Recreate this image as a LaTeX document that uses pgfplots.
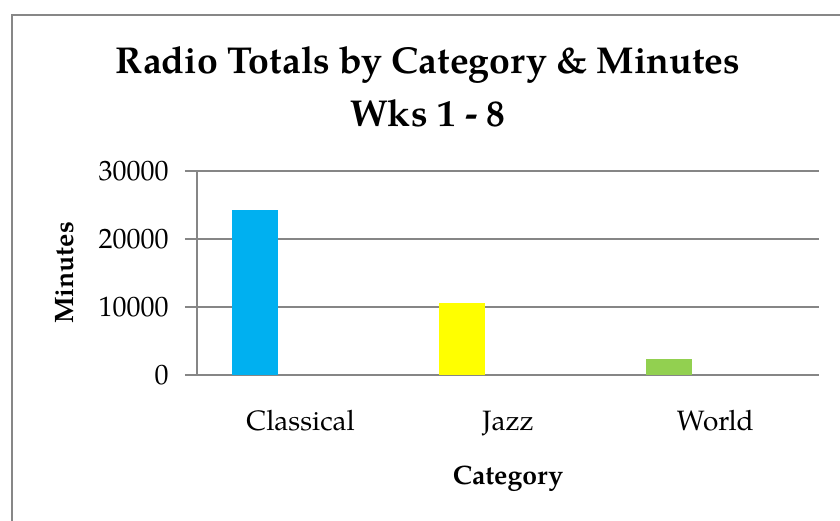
\documentclass[border=0pt]{standalone}
\usepackage{pgfplots}
\pgfplotsset{compat=1.18}
\usepackage{fontspec}
\setmainfont{TeX Gyre Pagella}
\definecolor{cblue}{RGB}{0,176,240}
\definecolor{cyellow}{RGB}{255,255,0}
\definecolor{cgreen}{RGB}{146,208,80}
\definecolor{axgray}{RGB}{134,134,134}
\definecolor{framegray}{RGB}{135,135,135}
\begin{document}
\begin{tikzpicture}
\path[use as bounding box] (0,0) rectangle (420pt,260pt);
\draw[framegray, line width=1pt] (6pt,-2pt) -- (6pt,252.5pt) -- (422pt,252.5pt);
\node[font=\fontsize{18.7}{22}\selectfont\bfseries] at (214pt,227.5pt) {Radio Totals by Category \& Minutes};
\node[font=\fontsize{18.7}{22}\selectfont\bfseries] at (214pt,203.5pt) {Wks 1 - 8};
\begin{axis}[
  scale only axis,
  width=311pt, height=102pt,
  at={(98.5pt,72.5pt)}, anchor=south west,
  xmin=-0.5, xmax=2.5,
  ymin=0, ymax=30000,
  xtick={0,1,2},
  xticklabels={Classical,Jazz,World},
  ytick={0,10000,20000,30000},
  scaled y ticks=false,
  /pgf/number format/assume math mode=true,
  yticklabel={\pgfmathprintnumber[fixed,1000 sep={}]{\tick}},
  axis x line*=bottom, axis y line*=left,
  axis line style={draw=axgray, line width=0.7pt, -},
  ymajorgrids, grid style={draw=axgray, line width=0.7pt},
  xtick style={draw=none},
  ytick style={draw=axgray, line width=0.7pt},
  tick align=outside, major tick length=6pt,
  tick label style={font=\fontsize{14}{16}\selectfont},
  yticklabel style={anchor=east, inner sep=0pt, xshift=-8pt},
  xticklabel style={anchor=base, inner sep=0pt, yshift=-21.5pt},
  ylabel={Minutes}, xlabel={Category},
  label style={font=\fontsize{13.3}{15}\selectfont\bfseries},
  ylabel style={at={(axis description cs:-0.212,0.5)}, anchor=center, rotate=0},
  xlabel style={at={(axis description cs:0.5,-0.51)}, anchor=center},
]
\addplot[ybar, bar width=0.2222, bar shift=0pt, fill=cblue, draw=none] coordinates {(-0.2222,24200)};
\addplot[ybar, bar width=0.2222, bar shift=0pt, fill=cyellow, draw=none] coordinates {(0.7778,10630)};
\addplot[ybar, bar width=0.2222, bar shift=0pt, fill=cgreen, draw=none] coordinates {(1.7778,2350)};
\end{axis}
\end{tikzpicture}
\end{document}
